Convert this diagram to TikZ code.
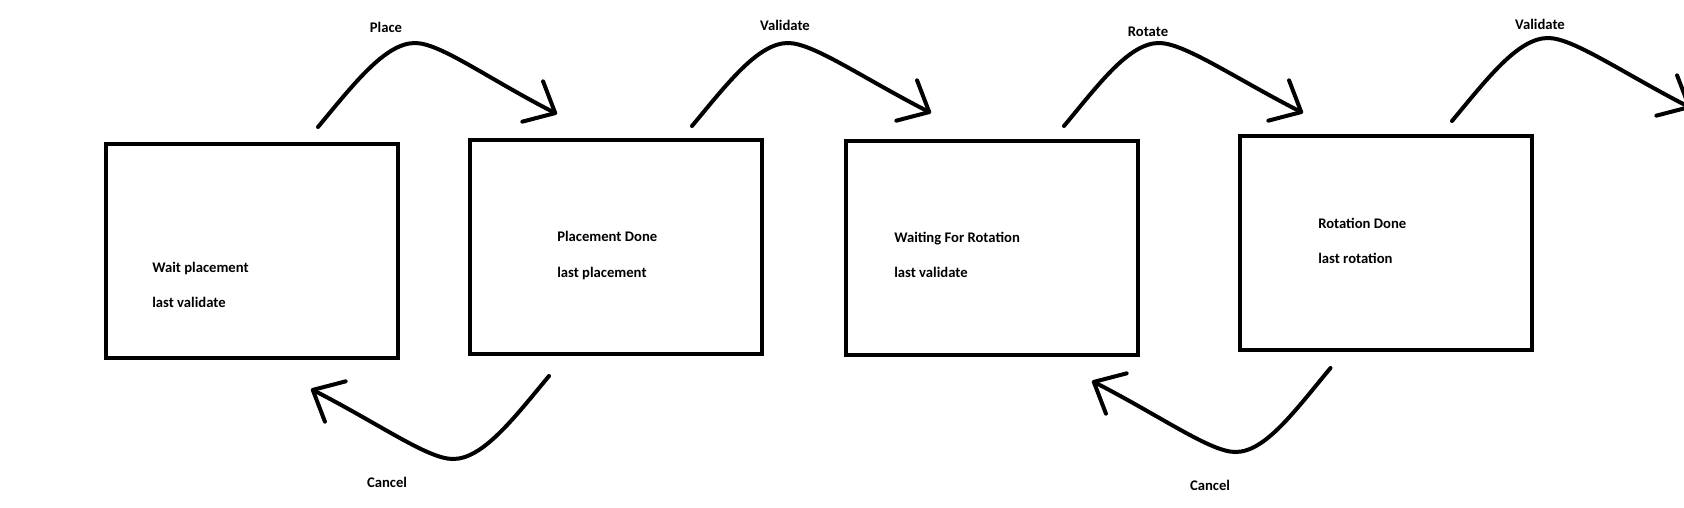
\documentclass[tikz,border=0pt]{standalone}
\usepackage{fontspec}
\setmainfont{Carlito}
\usetikzlibrary{arrows.meta}

\begin{document}
\begin{tikzpicture}[x=0.75pt, y=0.75pt,
    state/.style={draw, line width=3pt, minimum width=219pt, minimum height=160.5pt, inner sep=0pt},
    statetext/.style={font=\fontsize{11}{13}\selectfont\bfseries, anchor=base west, inner sep=0pt},
    edgelabel/.style={font=\fontsize{11}{13}\selectfont\bfseries, inner sep=0pt},
    flow/.style={line width=3pt, line cap=round, -{Straight Barb[length=19pt, width=34pt, round]}}]
    \clip (0,0) rectangle (1684,-507);

    % States
    \node[state] (wait)    at (252,-250.5) {};
    \node[state] (placed)  at (616,-247)   {};
    \node[state] (waitrot) at (992,-247.5) {};
    \node[state] (rotdone) at (1386,-243)  {};

    % State texts
    \node[statetext] (waitTitle)    at (152,-272)  {Wait placement};
    \node[statetext] (waitSub)      at (152,-307)  {last validate};
    \node[statetext] (placedTitle)  at (557,-241)  {Placement Done};
    \node[statetext] (placedSub)    at (557,-277)  {last placement};
    \node[statetext] (waitrotTitle) at (894,-242)  {Waiting For Rotation};
    \node[statetext] (waitrotSub)   at (894,-277)  {last validate};
    \node[statetext] (rotdoneTitle) at (1318,-228) {Rotation Done};
    \node[statetext] (rotdoneSub)   at (1318,-263) {last rotation};

    % Arrow ends
    \coordinate (placeS) at (318,-127);   \coordinate (placeE) at (557,-114);
    \coordinate (valS)   at (692,-126);   \coordinate (valE)   at (931,-113);
    \coordinate (rotS)   at (1064,-126);  \coordinate (rotE)   at (1303,-113);
    \coordinate (nextS)  at (1452,-121);  \coordinate (nextE)  at (1691,-108);
    \coordinate (cancelS)   at (549,-376);    \coordinate (cancelE)   at (311,-389);
    \coordinate (cancelTwoS) at (1330.5,-368); \coordinate (cancelTwoE) at (1092,-381);

    % Forward transitions
    \draw[flow] (placeS) .. controls +(35,42) and +(-30,0) .. ++(97,84)
        .. controls +(25,0) and +(-70,36) .. (placeE);
    \draw[flow] (valS) .. controls +(35,42) and +(-30,0) .. ++(96,83)
        .. controls +(25,0) and +(-70,36) .. (valE);
    \draw[flow] (rotS) .. controls +(35,42) and +(-30,0) .. ++(95,83)
        .. controls +(25,0) and +(-70,36) .. (rotE);
    \draw[flow] (nextS) .. controls +(35,42) and +(-30,0) .. ++(96,83)
        .. controls +(25,0) and +(-70,36) .. (nextE);

    % Cancel transitions
    \draw[flow] (cancelS) .. controls +(-35,-42) and +(30,0) .. ++(-96,-83)
        .. controls +(-25,0) and +(70,-36) .. (cancelE);
    \draw[flow] (cancelTwoS) .. controls +(-35,-42) and +(30,0) .. ++(-95,-84)
        .. controls +(-25,0) and +(70,-36) .. (cancelTwoE);

    % Transition labels
    \node[edgelabel] (placeLbl)     at (386,-27)  {Place};
    \node[edgelabel] (valLbl)       at (785,-25)  {Validate};
    \node[edgelabel] (rotLbl)       at (1148,-32) {Rotate};
    \node[edgelabel] (nextLbl)      at (1540,-24) {Validate};
    \node[edgelabel] (cancelLbl)    at (387,-482) {Cancel};
    \node[edgelabel] (cancelTwoLbl) at (1210,-485) {Cancel};
\end{tikzpicture}
\end{document}
